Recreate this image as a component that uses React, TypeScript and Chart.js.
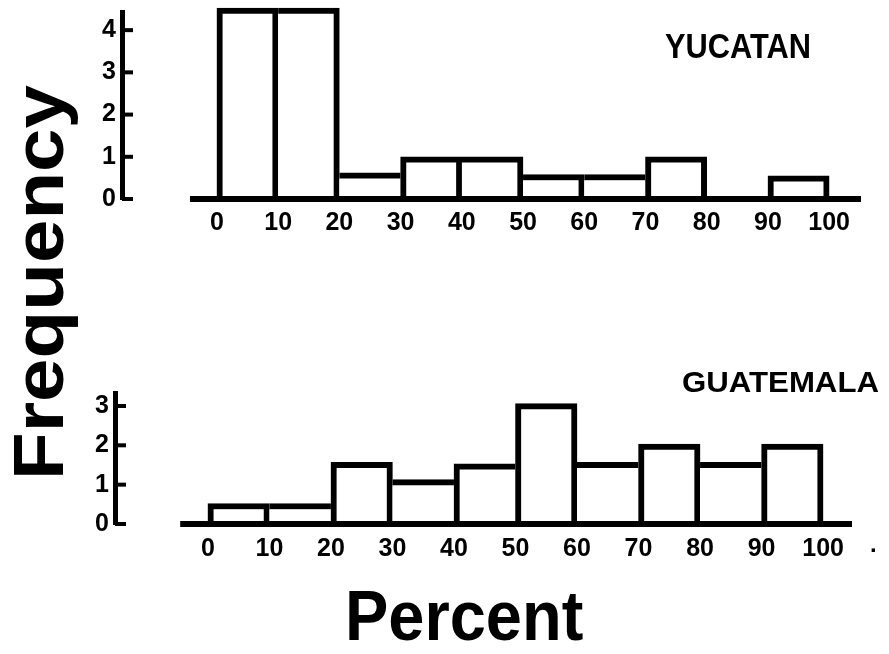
import React, { useEffect, useRef } from "react";
import { Chart, registerables } from "chart.js";

Chart.register(...registerables);

// ---------- data ----------
const binEdges = [0, 10, 20, 30, 40, 50, 60, 70, 80, 90, 100];
const binCenters = [5, 15, 25, 35, 45, 55, 65, 75, 85, 95];
const yucatanFreq = [4.52, 4.52, 0.62, 1.0, 1.0, 0.58, 0.58, 1.0, 0, 0.55];
const guatemalaFreq = [0.52, 0.52, 1.57, 1.13, 1.53, 3.06, 1.57, 2.03, 1.57, 2.03];
const yucatanYTicks = [0, 1, 2, 3, 4];
const guatemalaYTicks = [0, 1, 2, 3];
const yucatanXRange = [-15.5, 105.2];
const guatemalaXRange = [-15.1, 104.7];
const yucatanYMax = 4.43;
const guatemalaYMax = 3.33;
const yucatanBaseline = [-4.4, 105.2];
const guatemalaBaseline = [-4.5, 104.7];

const FONT = "'Liberation Sans', Arial, sans-serif";
const LINE_W = 6;

const edgeBorders = (vals: number[], w: number) => (ctx: any) => {
  const i = ctx.dataIndex;
  if (i === undefined || i === null) return w;
  const h = vals[i];
  const prev = i > 0 ? vals[i - 1] : -1;
  const next = i < vals.length - 1 ? vals[i + 1] : -1;
  return {
    top: w,
    bottom: 0,
    left: prev >= h ? 0 : w,
    right: next > h ? 0 : w,
  };
};

const inwardTicks = {
  id: "inwardTicks",
  afterDraw(chart: any) {
    const y = chart.scales.y;
    const left = chart.chartArea.left;
    const c = chart.ctx;
    c.save();
    c.strokeStyle = "#000";
    c.lineWidth = 4;
    c.lineCap = "butt";
    y.ticks.forEach((t: any) => {
      const py = y.getPixelForValue(t.value);
      c.beginPath();
      c.moveTo(left, py);
      c.lineTo(left + 11, py);
      c.stroke();
    });
    c.restore();
  },
};

function makeConfig(
  vals: number[],
  yTicks: number[],
  xRange: number[],
  yMax: number,
  baseline: number[],
  padding: any,
  labelPad: number
): any {
  return {
    type: "bar",
    data: {
      datasets: [
        {
          type: "line",
          data: baseline.map((x) => ({ x, y: 0 })),
          borderColor: "#000",
          borderWidth: LINE_W,
          pointRadius: 0,
          clip: false,
          order: 0,
        },
        {
          type: "bar",
          data: binCenters.map((x, i) => ({ x, y: vals[i] })),
          backgroundColor: "#fff",
          borderColor: "#000",
          borderWidth: edgeBorders(vals, LINE_W),
          borderSkipped: false,
          barPercentage: 1,
          categoryPercentage: 1,
          clip: false,
          order: 1,
        },
      ],
    },
    options: {
      animation: false,
      responsive: false,
      events: [],
      layout: { padding },
      plugins: {
        legend: { display: false },
        tooltip: { enabled: false },
        title: { display: false },
      },
      scales: {
        x: {
          type: "linear",
          min: xRange[0],
          max: xRange[1],
          offset: false,
          afterFit: (s: any) => {
            s.height = 40;
          },
          afterBuildTicks: (s: any) => {
            s.ticks = binEdges.map((v) => ({ value: v }));
          },
          grid: { display: false, drawTicks: false, offset: false },
          border: { display: false },
          ticks: {
            autoSkip: false,
            maxRotation: 0,
            padding: labelPad,
            color: "#000",
            font: { family: FONT, size: 25, weight: "bold", lineHeight: 1 },
            callback: (v: any) => String(v),
          },
        },
        y: {
          type: "linear",
          min: 0,
          max: yMax,
          afterFit: (s: any) => {
            s.width = 42;
          },
          afterBuildTicks: (s: any) => {
            s.ticks = yTicks.map((v) => ({ value: v }));
          },
          grid: { display: false, drawTicks: false },
          border: { display: true, color: "#000", width: 5 },
          ticks: {
            padding: 6,
            color: "#000",
            font: { family: FONT, size: 25, weight: "bold", lineHeight: 1 },
            callback: (v: any) => String(v),
          },
        },
      },
    },
    plugins: [inwardTicks],
  };
}

function Hist(props: {
  left: number;
  top: number;
  width: number;
  height: number;
  config: any;
}) {
  const ref = useRef<HTMLCanvasElement | null>(null);
  useEffect(() => {
    if (!ref.current) return;
    const chart = new Chart(ref.current, props.config);
    return () => chart.destroy();
  }, []);
  return (
    <canvas
      ref={ref}
      width={props.width}
      height={props.height}
      style={{
        position: "absolute",
        left: props.left,
        top: props.top,
        width: props.width,
        height: props.height,
      }}
    />
  );
}

const textBase: React.CSSProperties = {
  position: "absolute",
  fontFamily: FONT,
  fontWeight: "bold",
  lineHeight: 1,
  whiteSpace: "nowrap",
  color: "#000",
  transformOrigin: "0 0",
  margin: 0,
};

export default function App() {
  const topCfg = makeConfig(
    yucatanFreq,
    yucatanYTicks,
    yucatanXRange,
    yucatanYMax,
    yucatanBaseline,
    { left: 0, right: 28, top: 20, bottom: 7 },
    12
  );
  const botCfg = makeConfig(
    guatemalaFreq,
    guatemalaYTicks,
    guatemalaXRange,
    guatemalaYMax,
    guatemalaBaseline,
    { left: 0, right: 37, top: 53, bottom: 26 },
    13
  );
  return (
    <div
      style={{
        position: "fixed",
        left: 0,
        top: 0,
        width: 889,
        height: 654,
        background: "#fff",
        overflow: "hidden",
      }}
    >
      <Hist left={80} top={-8} width={809} height={254} config={topCfg} />
      <Hist left={73} top={340} width={816} height={250} config={botCfg} />
      <div style={{ ...textBase, left: 665, top: 28, fontSize: 35, transform: "scaleX(0.88)" }}>
        YUCATAN
      </div>
      <div style={{ ...textBase, left: 682, top: 367, fontSize: 30, transform: "scaleX(1.04)" }}>
        GUATEMALA
      </div>
      <div style={{ ...textBase, left: 345, top: 580, fontSize: 71, transform: "scaleX(0.915)" }}>
        Percent
      </div>
      <div
        style={{
          ...textBase,
          left: 3,
          top: 480,
          fontSize: 71,
          transform: "rotate(-90deg) scaleX(1.1)",
        }}
      >
        Frequency
      </div>
      <div style={{ ...textBase, left: 870, top: 532, fontSize: 24 }}>.</div>
    </div>
  );
}
